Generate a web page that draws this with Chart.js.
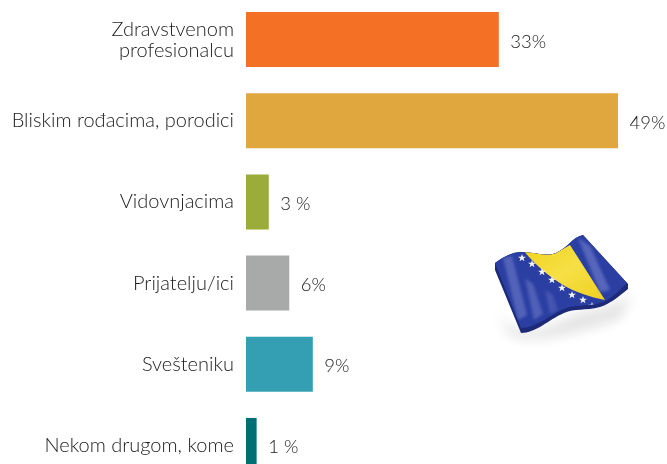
<!DOCTYPE html>
<html>
<head>
<meta charset="utf-8">
<script src="https://cdn.jsdelivr.net/npm/chart.js@4"></script>
<style>
html,body{margin:0;padding:0;background:#fff;overflow:hidden}
#wrap{position:relative;width:667px;height:464px;overflow:hidden}
#box{position:absolute;left:0;top:-10px;width:667px;height:500px}
#flag{position:absolute;left:470px;top:220px}
</style>
</head>
<body>
<div id="wrap">
<div id="box"><canvas id="c"></canvas></div>
<svg id="flag" width="180" height="135" viewBox="470 220 180 135">
<defs>
<filter id="bl" x="-30%" y="-50%" width="160%" height="200%"><feGaussianBlur stdDeviation="6"/></filter>
<filter id="bs" x="-50%" y="-50%" width="200%" height="200%"><feGaussianBlur stdDeviation="1.6"/></filter>
<linearGradient id="yg" x1="0" y1="0" x2="1" y2="1"><stop offset="0" stop-color="#f2d21c"/><stop offset=".5" stop-color="#f6e045"/><stop offset="1" stop-color="#f0cf20"/></linearGradient>
<clipPath id="face"><path d="M495,263 C505,256 512,252 522,252 C535,252 545,257 556,253 C568,248 572,237 583,235 L627,283 C618,292 610,300 600,303 C585,307 575,304 564,309 C548,316 536,328 521,328 Z"/></clipPath>
<polygon id="st" points="0,-4 1,-1.2 3.9,-1.2 1.6,.5 2.4,3.3 0,1.6 -2.4,3.3 -1.6,.5 -3.9,-1.2 -1,-1.2"/>
</defs>
<path d="M495,310 C515,340 545,330 570,316 C590,308 615,308 632,292 L622,318 C590,330 540,346 510,336 Z" fill="#000" opacity=".1" filter="url(#bl)"/>
<path d="M495,263 C505,256 512,252 522,252 C535,252 545,257 556,253 C568,248 572,237 583,235 L628,284 L628,289 C618,297 610,304 600,307 C585,311 575,308 564,313 C548,320 536,333 521,333 L495,270 Z" fill="#1c2a78"/>
<g clip-path="url(#face)">
<rect x="490" y="230" width="145" height="105" fill="#2b3fa3"/>
<path d="M524,251 C535,252 545,257 556,253 L570,245 L605,300 C590,297 575,292 563,285 C550,277 535,265 524,251 Z" fill="url(#yg)"/>
<path d="M503,258 L512,256 L527,315 L518,320 Z" fill="#7c86cf" opacity=".5" filter="url(#bs)"/>
<path d="M525,278 L533,284 L543,314 L534,320 Z" fill="#6f7bc8" opacity=".55" filter="url(#bs)"/>
<path d="M578,238 L590,246 L610,290 L600,292 Z" fill="#7c86cf" opacity=".55" filter="url(#bs)"/>
<path d="M545,290 L552,294 L558,310 L550,314 Z" fill="#5f6cc0" opacity=".5" filter="url(#bs)"/>
<g fill="#f4f4f8">
<use href="#st" x="522" y="258"/><use href="#st" x="532" y="264"/><use href="#st" x="542" y="272"/><use href="#st" x="552" y="280"/><use href="#st" x="562" y="288"/><use href="#st" x="572" y="295"/><use href="#st" x="583" y="300"/><use href="#st" x="592" y="306"/>
</g>
</g>
</svg>
</div>
<script>
const categories = [["Zdravstvenom", "profesionalcu"], "Bliskim rođacima, porodici", "Vidovnjacima", "Prijatelju/ici", "Svešteniku", "Nekom drugom, kome"];
const barValues = [33.3, 49, 3, 5.7, 8.8, 1.4];
const valueLabels = ["33%", "49%", "3 %", "6%", "9%", "1 %"];
const barColors = ["#f37024", "#e0a73e", "#9cac38", "#a7aaa9", "#349fb2", "#006f74"];
const FONT = "Lato, sans-serif";

const valuePlugin = {
  id: "valuePlugin",
  afterDatasetsDraw(chart) {
    const ctx = chart.ctx, meta = chart.getDatasetMeta(0);
    ctx.save();
    ctx.font = "300 18.5px " + FONT;
    ctx.fillStyle = "#1a1a1a";
    ctx.textBaseline = "middle";
    ctx.textAlign = "left";
    meta.data.forEach((bar, i) => ctx.fillText(valueLabels[i], bar.x + 11.5, bar.y + 2));
    ctx.restore();
  }
};

new Chart(document.getElementById("c"), {
  type: "bar",
  data: { labels: categories, datasets: [{ data: barValues, backgroundColor: barColors, borderWidth: 0, categoryPercentage: 1, barPercentage: 0.677 }] },
  plugins: [valuePlugin],
  options: {
    indexAxis: "y",
    responsive: true,
    maintainAspectRatio: false,
    animation: false,
    layout: { padding: { top: 9, bottom: 4, left: 0, right: 49 } },
    plugins: { legend: { display: false }, tooltip: { enabled: false } },
    scales: {
      x: { display: false, min: 0, max: 49 },
      y: {
        afterFit(s) { s.width = 246; s.paddingTop = 0; s.paddingBottom = 0; },
        grid: { display: false },
        border: { display: false },
        ticks: { color: "#1a1a1a", font: { family: FONT, size: 20, weight: 300, lineHeight: 1.05 }, padding: 4, autoSkip: false, maxRotation: 0 }
      }
    }
  }
});
</script>
</body>
</html>
